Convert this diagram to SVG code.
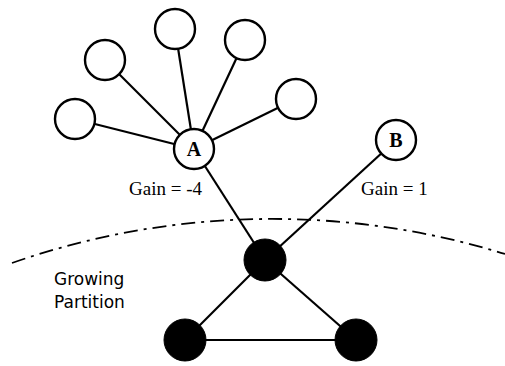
<svg xmlns="http://www.w3.org/2000/svg" width="505" height="366" viewBox="0 0 505 366">
<style>
.e{stroke:#000;stroke-width:2.2;fill:none}
.w{fill:#fff;stroke:#000;stroke-width:2.4}
.b{fill:#000;stroke:#000;stroke-width:1}
.lbl{font-family:"Liberation Serif",serif;font-weight:bold;font-size:20px;text-anchor:middle}
.gain{font-family:"Liberation Serif",serif;font-size:19px}
.part{font-family:"DejaVu Sans","Liberation Sans",sans-serif;font-size:17px}
</style>
<rect width="505" height="366" fill="#fff"/>
<path d="M 12 263 A 790 790 0 0 1 505 254" fill="none" stroke="#000" stroke-width="1.8" stroke-dasharray="14 6 3 6"/>
<g id="connectors">
<line class="e" x1="194" y1="149" x2="75" y2="119"/>
<line class="e" x1="194" y1="149" x2="105" y2="60"/>
<line class="e" x1="194" y1="149" x2="175" y2="29"/>
<line class="e" x1="194" y1="149" x2="245" y2="40"/>
<line class="e" x1="194" y1="149" x2="296" y2="99"/>
<line class="e" x1="194" y1="149" x2="265" y2="260"/>
<line class="e" x1="396" y1="140" x2="265" y2="260"/>
<line class="e" x1="265" y1="260" x2="185" y2="340"/>
<line class="e" x1="265" y1="260" x2="356" y2="340"/>
<line class="e" x1="185" y1="340" x2="356" y2="340"/>
</g>
<g id="n1"><circle class="w" cx="75" cy="119" r="20"/></g>
<g id="n2"><circle class="w" cx="105" cy="60" r="20"/></g>
<g id="n3"><circle class="w" cx="175" cy="29" r="20"/></g>
<g id="n4"><circle class="w" cx="245" cy="40" r="20"/></g>
<g id="n5"><circle class="w" cx="296" cy="99" r="20"/></g>
<g id="A"><circle class="w" cx="194" cy="149" r="20"/><text class="lbl" x="194" y="156">A</text></g>
<g id="B"><circle class="w" cx="396" cy="140" r="20"/><text class="lbl" x="396" y="147">B</text></g>
<g id="p1"><circle class="b" cx="265" cy="260" r="21"/></g>
<g id="p2"><circle class="b" cx="185" cy="340" r="21"/></g>
<g id="p3"><circle class="b" cx="356" cy="340" r="21"/></g>
<text class="gain" x="129" y="195">Gain = -4</text>
<text class="gain" x="361" y="195">Gain = 1</text>
<text class="part" x="54" y="285">Growing</text>
<text class="part" x="54" y="308">Partition</text>
</svg>
